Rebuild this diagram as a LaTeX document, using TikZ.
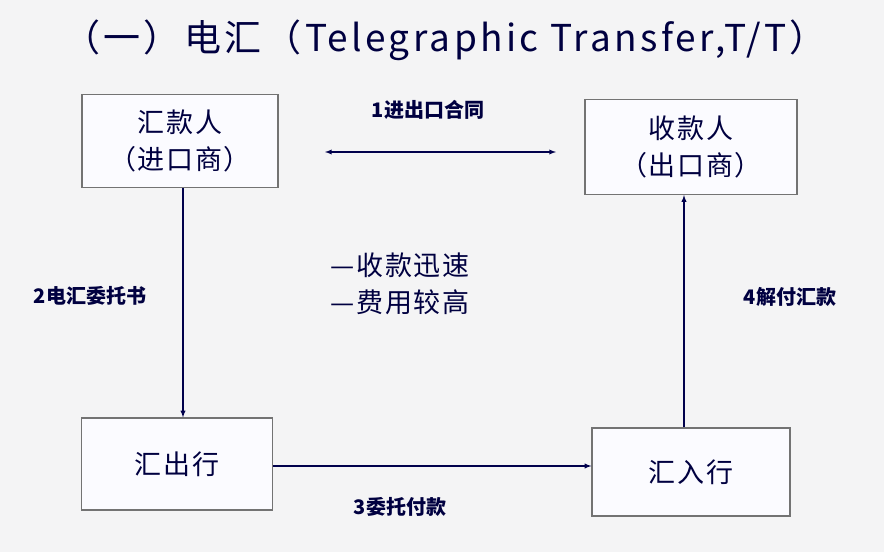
\documentclass[tikz,border=0pt]{standalone}
\usepackage{fontspec}
\setmainfont{Noto Sans CJK SC}
\begin{document}
\begin{tikzpicture}[x=1pt,y=-1pt,
  txt/.style={text=blue!25!black,font=\addfontfeatures{LetterSpace=6}\fontsize{27}{37}\selectfont,align=center},
  lab/.style={text=blue!25!black,font=\bfseries\fontsize{20}{24}\selectfont},
  bx/.style={draw=black!55,line width=1.2pt,fill=white!85!blue!10},
  arr/.style={draw=blue!30!black,line width=1.3pt,-latex}]
\fill[blue!4!gray!8] (0,0) rectangle (884,552);
\node[text=blue!25!black,font=\addfontfeatures{LetterSpace=9}\fontsize{37}{42}\selectfont] (title) at (445,40) {（一）电汇（Telegraphic Transfer,T/T）};
\node[bx,minimum width=196pt,minimum height=93pt,txt] (a) at (180,141) {汇款人\\（进口商）};
\node[bx,minimum width=212pt,minimum height=95pt,txt] (b) at (691,147) {收款人\\（出口商）};
\node[bx,minimum width=191pt,minimum height=92pt,txt] (c) at (177,464) {汇出行};
\node[bx,minimum width=198pt,minimum height=88pt,txt] (d) at (691,472) {汇入行};
\coordinate (p1) at (325,152); \coordinate (p2) at (556,152);
\draw[arr,latex-latex] (p1) -- (p2);
\node[lab] (l1) at (428,110) {1进出口合同};
\draw[arr] (a.south -| 183,0) -- (c.north -| 183,0);
\node[lab] (l2) at (90,296) {2电汇委托书};
\draw[arr] (d.north -| 684,0) -- (b.south -| 684,0);
\node[lab] (l4) at (790,297) {4解付汇款};
\draw[arr] (c.east |- 0,466) -- (d.west |- 0,466);
\node[lab] (l3) at (400,507) {3委托付款};
\node[txt,align=left] (m) at (400,284) {—收款迅速\\—费用较高};
\end{tikzpicture}
\end{document}
